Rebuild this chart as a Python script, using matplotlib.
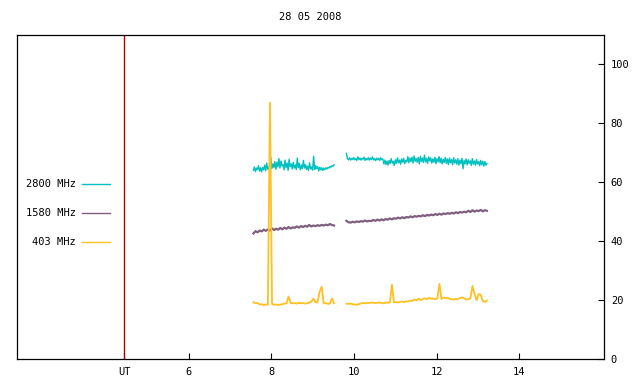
import numpy as np
import matplotlib
matplotlib.use("Agg")
from matplotlib import pyplot as plt

# time windows of the two recording segments (UT hours)
seg1 = (7.57, 9.52)
seg2 = (9.82, 13.22)

f2800_a = [64.0, 65.2, 63.6, 64.8, 64.3, 65.6, 63.8, 64.9, 63.5, 65.0, 64.2, 65.8, 63.9, 66.5, 64.4, 65.3,
           64.0, 68.5, 64.6, 66.2, 65.0, 67.0, 64.4, 66.8, 65.2, 68.0, 64.8, 67.2, 65.5, 66.0, 64.2, 67.5,
           65.0, 66.5, 64.0, 67.8, 65.3, 66.2, 64.5, 66.8, 64.8, 65.9, 64.3, 68.2, 64.9, 66.4, 64.2, 65.8,
           64.6, 67.4, 64.8, 66.0, 64.3, 65.5, 64.0, 66.6, 64.5, 65.2, 64.1, 68.8, 64.3, 65.6, 64.6, 65.3,
           63.8, 65.1, 64.2, 64.9, 64.0, 64.8, 64.3, 64.9, 64.5, 65.0, 64.8, 65.3, 65.1, 65.6, 65.4, 65.9]
f2800_b = [69.8, 68.0, 67.6, 68.3, 67.5, 68.1, 67.7, 68.4, 67.6, 68.0, 67.4, 68.6, 67.7, 68.2, 67.5, 68.1,
           67.8, 68.5, 67.4, 68.0, 67.6, 68.3, 67.5, 68.2, 67.7, 68.6, 67.6, 68.0, 67.3, 68.2, 67.6, 68.1,
           67.4, 68.3, 67.7, 67.9,
           66.2, 67.5, 66.0, 67.2, 65.8, 67.4, 66.3, 68.0, 66.5, 67.1, 65.7, 67.6, 66.4, 68.3, 66.6, 67.5,
           66.1, 67.9, 66.8, 68.1, 66.3, 67.4, 66.9, 68.7, 66.6, 68.2, 67.0, 68.5, 66.5, 68.9, 67.1, 68.0,
           66.8, 68.4, 66.2, 68.8, 67.0, 68.2, 66.7, 69.2, 66.9, 68.1, 66.4, 68.6, 67.2, 68.3, 66.5, 67.9,
           66.8, 68.5, 66.3, 68.0, 66.9, 68.7, 66.6, 68.1, 66.2, 67.8, 66.7, 68.4, 66.4, 67.9, 66.0, 68.2,
           66.6, 67.7, 65.9, 68.3, 66.5, 67.6, 66.1, 68.0, 65.8, 67.5, 66.3, 68.1, 64.6, 67.4, 66.2, 67.9,
           65.9, 67.6, 66.4, 67.3, 65.7, 68.0, 66.1, 67.2, 65.8, 67.7, 66.2, 67.0, 65.6, 67.4, 65.9, 67.1,
           65.5, 67.0, 65.8, 66.4]

f1580_a = [42.6, 43.4, 43.0, 43.6, 43.3, 43.9, 43.5, 44.0, 43.6, 44.3, 43.8, 44.2, 43.9, 44.5,
           44.0, 44.6, 44.2, 44.8, 44.3, 44.7, 44.5, 45.0, 44.6, 45.1, 44.8, 45.2, 44.9, 45.5,
           45.0, 45.3, 45.1, 45.4, 45.2, 45.5, 45.3, 45.6, 45.4, 45.8, 45.5, 45.3]
f1580_b = [46.9, 46.4, 46.3, 46.6, 46.4, 46.7, 46.5, 46.8, 46.6, 47.0, 46.7, 46.9, 46.8, 47.2,
           46.9, 47.3, 47.0, 47.4, 47.1, 47.5, 47.3, 47.7, 47.4, 47.8, 47.6, 48.0, 47.7, 48.1,
           47.8, 48.2, 48.0, 48.4, 48.1, 48.5, 48.3, 48.6, 48.4, 48.8, 48.5, 48.9, 48.7, 49.0,
           48.8, 49.2, 48.9, 49.3, 49.0, 49.4, 49.2, 49.5, 49.3, 49.6, 49.4, 49.8, 49.5, 49.9,
           49.7, 50.0, 49.8, 50.3, 49.9, 50.5, 50.0, 50.4, 50.2, 50.6, 50.1, 50.5, 50.3]

f403_a = [19.3, 18.9, 19.0, 18.5, 18.6, 18.3, 18.5, 18.4, 87.0, 18.7, 18.4, 18.5, 18.3, 18.5,
          18.6, 18.8, 18.9, 21.2, 19.0, 18.9, 19.0, 18.8, 19.1, 18.9, 19.0, 18.8, 18.9, 19.2,
          19.4, 20.5, 19.3, 19.2, 22.8, 24.5, 18.9, 19.0, 18.7, 18.8, 20.5, 18.9]
f403_b = [18.8, 18.7, 18.8, 18.6, 18.5, 18.4, 18.6, 18.9, 19.0, 18.9, 19.1, 19.0, 19.2, 19.1,
          19.0, 19.1, 19.2, 19.0, 18.9, 19.1, 19.2, 19.1, 25.2, 19.2, 19.3, 19.2, 19.4, 19.5,
          19.3, 19.6, 19.5, 19.8, 19.7, 20.2, 19.9, 20.5, 20.0, 20.4, 20.6, 20.3, 20.8, 20.4,
          20.6, 20.3, 20.5, 25.5, 20.4, 20.9, 20.6, 20.8, 20.4, 20.3, 20.2, 20.4, 20.3, 20.7,
          20.9, 20.6, 20.2, 20.3, 20.6, 24.8, 22.0, 20.0, 22.0, 21.8, 19.6, 19.4, 19.8]

ut_mark = 4.44
xticks = [ut_mark, 6, 8, 10, 12, 14]
xlabels = ["UT", "6", "8", "10", "12", "14"]
yticks = [0, 20, 40, 60, 80, 100]

series = [("2800 MHz", "#00c0c0", 1.0, f2800_a, f2800_b),
          ("1580 MHz", "#805e80", 1.6, f1580_a, f1580_b),
          ("403 MHz", "#ffc020", 1.3, f403_a, f403_b)]

plt.rcParams['font.family'] = ['DejaVu Sans Mono']
fig = plt.figure(figsize=(6.4, 3.84), dpi=100)
ax = fig.add_axes([0.0266, 0.0651, 0.917, 0.844])

for name, col, lw, a, b in series:
    ax.plot(np.linspace(seg1[0], seg1[1], len(a)), a, color=col, lw=lw)
    ax.plot(np.linspace(seg2[0], seg2[1], len(b)), b, color=col, lw=lw)

ax.axvline(ut_mark, color="#b00000", lw=1)

ax.set_xlim(1.85, 16.05)
ax.set_ylim(0, 110)
ax.set_xticks(xticks)
ax.set_xticklabels(xlabels)
ax.set_yticks(yticks)
ax.yaxis.tick_right()
ax.tick_params(axis='both', direction='in', length=4, width=0.8, labelsize=7.5)
ax.tick_params(axis='x', pad=6)
ax.tick_params(axis='y', pad=5)
for s in ax.spines.values():
    s.set_linewidth(0.9)

# gnuplot-style key: label then sample line
for k, (name, col, lw, a, b) in enumerate(series):
    yk = 0.540 - 0.0895 * k
    ax.text(0.1005, yk, name, transform=ax.transAxes, ha='right', va='center', fontsize=7.5)
    ax.plot([0.111, 0.158], [yk, yk], transform=ax.transAxes, color=col, lw=1)

fig.text(0.484, 0.955, "28 05 2008", ha='center', va='center', fontsize=7.5)

fig.savefig("out.png", dpi=100)
